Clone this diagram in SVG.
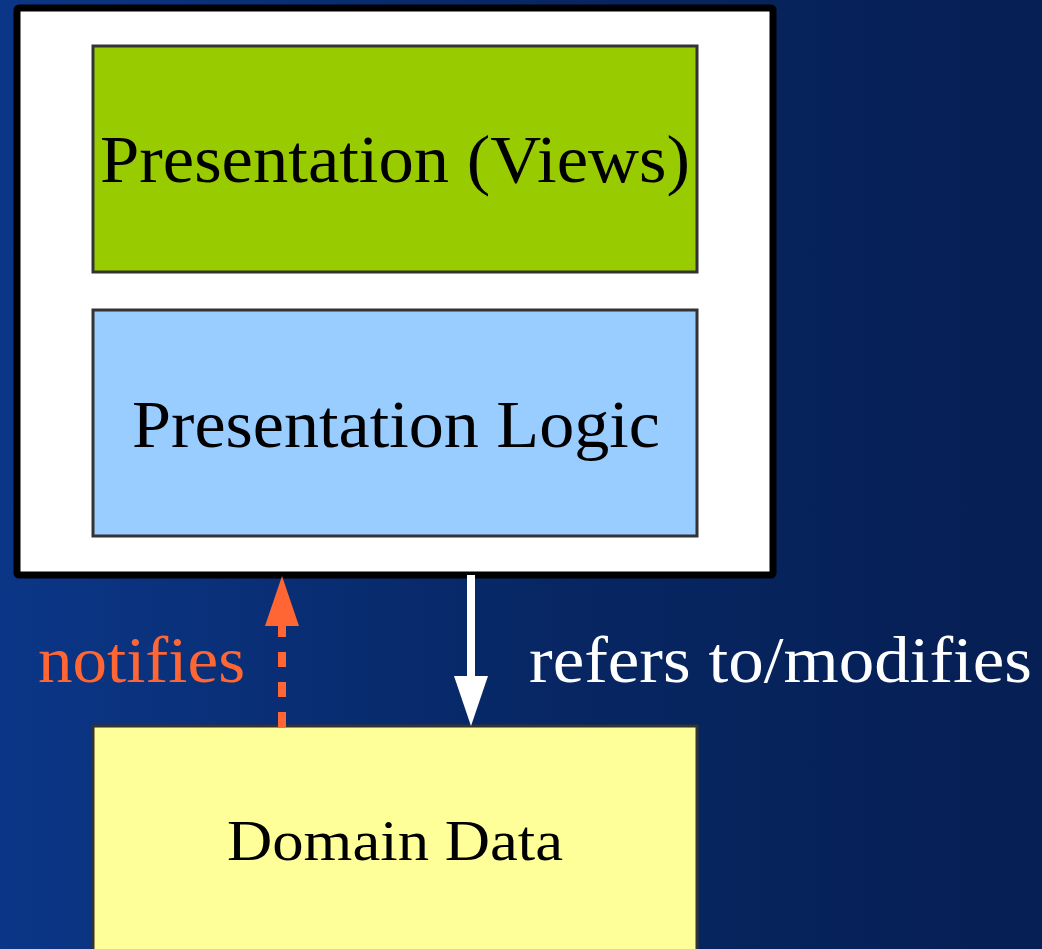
<svg xmlns="http://www.w3.org/2000/svg" width="1042" height="949" viewBox="0 0 1042 949">
  <defs>
    <linearGradient id="bg" x1="0" y1="0" x2="1" y2="0">
      <stop offset="0" stop-color="#0b3687"/>
      <stop offset="0.55" stop-color="#072662"/>
      <stop offset="1" stop-color="#061f54"/>
    </linearGradient>
    <style>
      .box { stroke: #333333; stroke-width: 3; }
      .lbl { font-family: "Liberation Serif", "DejaVu Serif", serif; text-anchor: middle; }
      .edge { font-family: "Liberation Serif", "DejaVu Serif", serif; font-size: 66px; }
    </style>
  </defs>

  <!-- backdrop -->
  <rect x="0" y="0" width="1042" height="949" fill="url(#bg)"/>

  <!-- client container holding the two presentation layers -->
  <g id="client">
    <rect x="17" y="8" width="756" height="567" rx="2" fill="#ffffff" stroke="#000000" stroke-width="7"/>
  </g>

  <g id="views">
    <rect class="box" x="93" y="46" width="604" height="226" fill="#99cc00"/>
    <text class="lbl" x="395" y="182" font-size="67" fill="#000000" textLength="590" lengthAdjust="spacingAndGlyphs">Presentation (Views)</text>
  </g>

  <g id="logic">
    <rect class="box" x="93" y="310" width="604" height="226" fill="#99ccff"/>
    <text class="lbl" x="396" y="447" font-size="67" fill="#000000" textLength="528" lengthAdjust="spacingAndGlyphs">Presentation Logic</text>
  </g>

  <g id="domain">
    <rect class="box" x="93" y="726" width="604" height="240" fill="#ffff99"/>
    <text class="lbl" x="395" y="860" font-size="56" fill="#000000" textLength="336" lengthAdjust="spacingAndGlyphs">Domain Data</text>
  </g>

  <!-- connectors -->
  <g id="connectors">
    <!-- domain data notifies the client (dashed, orange) -->
    <line x1="282" y1="727" x2="282" y2="626" stroke="#ff6633" stroke-width="8" stroke-dasharray="15 15"/>
    <polygon points="282,576 265,626 299,626" fill="#ff6633"/>
    <text class="edge" x="38" y="682" fill="#ff6633" textLength="207" lengthAdjust="spacingAndGlyphs">notifies</text>

    <!-- client refers to / modifies domain data (solid, white) -->
    <line x1="471" y1="575" x2="471" y2="678" stroke="#ffffff" stroke-width="8"/>
    <polygon points="454,676 488,676 471,726" fill="#ffffff"/>
    <text class="edge" x="529" y="682" fill="#ffffff" textLength="503" lengthAdjust="spacingAndGlyphs">refers to/modifies</text>
  </g>
</svg>
